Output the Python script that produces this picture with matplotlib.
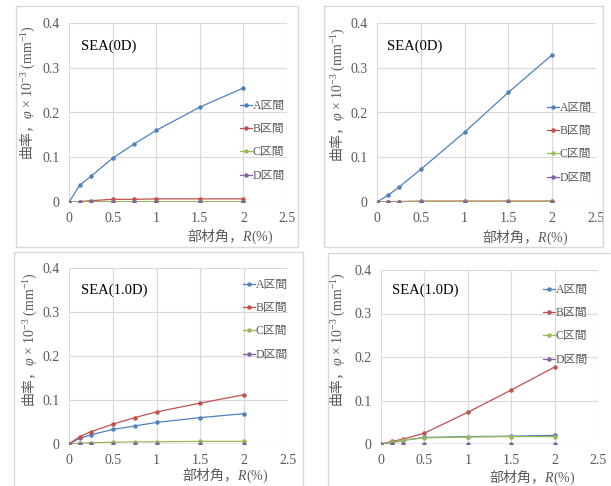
import matplotlib
matplotlib.use('Agg')
import matplotlib.pyplot as plt
from matplotlib.patches import Rectangle

plt.rcParams['mathtext.fontset'] = 'custom'
plt.rcParams['mathtext.rm'] = 'Liberation Serif'
plt.rcParams['mathtext.it'] = 'Liberation Serif:italic'
plt.rcParams['mathtext.bf'] = 'Liberation Serif:bold'

W, H = 611, 486
SERIF = ['Liberation Serif', 'Noto Sans CJK JP', 'DejaVu Sans']
CJK = 'Noto Sans CJK JP'
GRAY = '#595959'
GRID = '#d9d9d9'

# data
r_8 = [0, 0.125, 0.25, 0.5, 0.75, 1.0, 1.5, 2.0]
r_7 = [0, 0.125, 0.25, 0.5, 1.0, 1.5, 2.0]
labels = ['A区間', 'B区間', 'C区間', 'D区間']
colors = ['#4f81bd', '#c0504d', '#9bbb59', '#8064a2']

p1_A = [0, 0.038, 0.057, 0.098, 0.130, 0.160, 0.212, 0.255]
p1_B = [0, 0.001, 0.003, 0.006, 0.006, 0.007, 0.007, 0.007]
p1_C = [0, 0.000, 0.001, 0.001, 0.001, 0.001, 0.001, 0.001]
p1_D = [0, 0, 0, 0, 0, 0, 0, 0]

p2_A = [0, 0.015, 0.033, 0.073, 0.156, 0.245, 0.329]
p2_B = [0, 0.001, 0.001, 0.002, 0.002, 0.002, 0.002]
p2_C = [0, 0.000, 0.000, 0.001, 0.001, 0.001, 0.001]
p2_D = [0, 0, 0, 0, 0, 0, 0]

p3_A = [0, 0.013, 0.021, 0.033, 0.041, 0.049, 0.060, 0.069]
p3_B = [0, 0.017, 0.028, 0.045, 0.060, 0.073, 0.093, 0.112]
p3_C = [0, 0.002, 0.003, 0.004, 0.005, 0.005, 0.006, 0.006]
p3_D = [0, 0, 0, 0, 0, 0, 0, 0]

p4_A = [0, 0.003, 0.008, 0.015, 0.017, 0.018, 0.020]
p4_B = [0, 0.006, 0.011, 0.025, 0.073, 0.124, 0.177]
p4_C = [0, 0.004, 0.009, 0.014, 0.016, 0.017, 0.017]
p4_D = [0, 0, 0, 0, 0, 0, 0]

titles = ['SEA(0D)', 'SEA(0D)', 'SEA(1.0D)', 'SEA(1.0D)']
x_ticks = [0, 0.5, 1, 1.5, 2, 2.5]
x_ticklabels = ['0', '0.5', '1', '1.5', '2', '2.5']
y_ticks = [0, 0.1, 0.2, 0.3, 0.4]
y_ticklabels = ['0', '0.1', '0.2', '0.3', '0.4']

panels = [
    (r_8, [p1_A, p1_B, p1_C, p1_D]),
    (r_7, [p2_A, p2_B, p2_C, p2_D]),
    (r_8, [p3_A, p3_B, p3_C, p3_D]),
    (r_7, [p4_A, p4_B, p4_C, p4_D]),
]

# layout in pixels: axes box (x0, x1, ytop, ybot), frame, legend anchor, title, labels
layout = [
    dict(ax=(69, 287, 23, 202), frame=(16, 6, 298, 247), leg=(240, 100),
         title=(81, 46), ylab=(28, 93), xlab=(273, 236)),
    dict(ax=(377, 596, 23, 202), frame=(324, 6, 603, 247), leg=(547, 102),
         title=(387, 46), ylab=(338, 95), xlab=(568, 237)),
    dict(ax=(69, 288, 268, 444), frame=(14, 252, 303, 520), leg=(243, 279),
         title=(81, 290), ylab=(30, 340), xlab=(268, 475)),
    dict(ax=(381, 598, 270, 444), frame=(328, 253, 640, 520), leg=(543, 284),
         title=(392, 290), ylab=(338, 340), xlab=(575, 477)),
]

fig = plt.figure(figsize=(W / 100, H / 100), dpi=100)


def fx(x):
    return x / W


def fy(y):
    return 1 - y / H


for (x, series), lay, title in zip(panels, layout, titles):
    fl, ft, fr, fb = lay['frame']
    fig.patches.append(Rectangle((fx(fl), fy(fb)), (fr - fl) / W, (fb - ft) / H,
                                 transform=fig.transFigure, fill=False,
                                 edgecolor=GRID, linewidth=1))
    x0, x1, yt, yb = lay['ax']
    ax = fig.add_axes([fx(x0), fy(yb), (x1 - x0) / W, (yb - yt) / H])
    for vals, lab, c in zip(series, labels, colors):
        ax.plot(x, vals, color=c, lw=0.9, marker='o', ms=2.2, label=lab)
    ax.set_xlim(0, 2.5)
    ax.set_ylim(0, 0.4)
    ax.set_xticks(x_ticks)
    ax.set_xticklabels(x_ticklabels)
    ax.set_yticks(y_ticks)
    ax.set_yticklabels(y_ticklabels)
    for s in ax.spines.values():
        s.set_visible(False)
    ax.grid(True, color=GRID, lw=0.8)
    ax.set_axisbelow(True)
    ax.tick_params(length=0, labelsize=10, labelcolor=GRAY, pad=7)
    for t in ax.get_xticklabels() + ax.get_yticklabels():
        t.set_family('Liberation Serif')

    lx, ly = lay['leg']
    ax.legend(loc='upper left', bbox_to_anchor=(fx(lx), fy(ly)),
              bbox_transform=fig.transFigure, frameon=False, borderpad=0,
              borderaxespad=0, handlelength=1.0, handletextpad=0.1,
              labelspacing=0.95, prop=dict(family=SERIF, size=8.5),
              labelcolor=GRAY)

    tx, ty = lay['title']
    fig.text(fx(tx), fy(ty), title, ha='left', va='center',
             family='Liberation Serif', fontsize=10.5, color='black')

    fig.text(fx(lay['ylab'][0]), fy(lay['ylab'][1]),
             '曲率，$\\varphi\\ \\mathrm{\\times\\ 10^{-3}\\ (mm^{-1})}$',
             rotation=90, ha='center', va='center', family=CJK,
             fontsize=10, color=GRAY)
    fig.text(fx(lay['xlab'][0]), fy(lay['xlab'][1]),
             '部材角，$\\mathit{R}\\mathrm{(\\%)}$',
             ha='right', va='center', family=CJK, fontsize=10, color=GRAY)

fig.savefig('out.png', dpi=100)
